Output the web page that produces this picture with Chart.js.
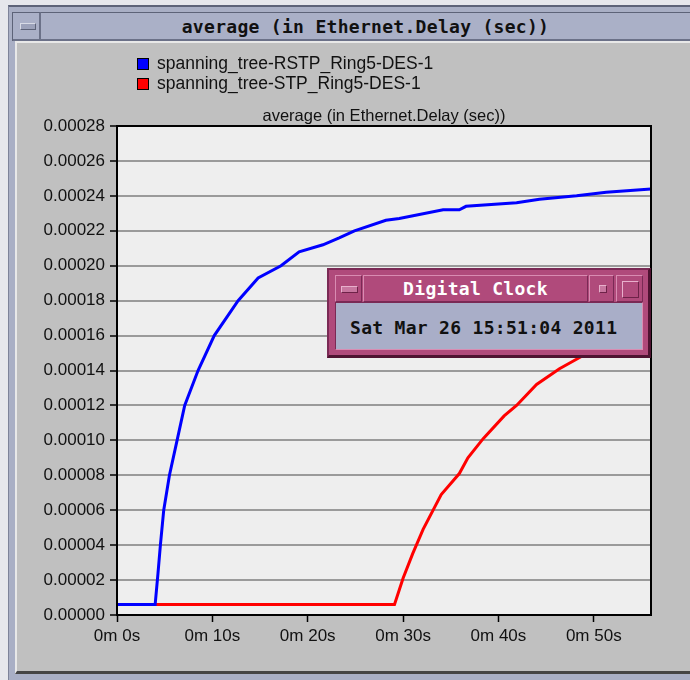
<!DOCTYPE html>
<html>
<head>
<meta charset="utf-8">
<script src="https://cdn.jsdelivr.net/npm/chart.js@4.4.1/dist/chart.umd.min.js"></script>
<style>
  html, body { margin: 0; padding: 0; }
  body {
    width: 690px; height: 680px; position: relative; overflow: hidden;
    background: #e6e7ec;
    font-family: "Liberation Sans", Arial, sans-serif;
  }
  .abs { position: absolute; box-sizing: border-box; }
  .mono { font: bold 18px "DejaVu Sans Mono", "Liberation Mono", monospace; letter-spacing: 0.3px; }
  #frame { left: 8px; top: 5px; width: 700px; height: 690px; background: #a9afc5;
           border-left: 1px solid #7d8399; border-top: 2px solid #5d6378; }
  #titlebar { left: 12px; top: 12px; width: 690px; height: 29px; background: #aab0c7;
              border-top: 1px solid #5d6378; border-left: 1px solid #5d6378; border-bottom: 2px solid #6b7188; }
  #wbtn { left: 12px; top: 12px; width: 29px; height: 29px; border-right: 2px solid #6b7188;
          border-left: 1px solid #5d6378; border-top: 1px solid #5d6378; }
  #wbtn i { position: absolute; left: 7px; top: 10px; width: 14px; height: 5px; background: #9ca2ba;
            border: 1px solid #5d6378; border-top-color: #d8dbe6; border-left-color: #d8dbe6; }
  #wtitle { left: 41px; top: 13px; width: 649px; height: 27px; line-height: 27px; text-align: center; color: #111; }
  #panel { left: 15px; top: 41px; width: 680px; height: 633px; background: #c0c0c0;
           border-top: 2px solid #e8e8e8; border-left: 2px solid #e8e8e8; border-bottom: 3px solid #454545; }
  #chart { position: absolute; left: 17px; top: 43px; }
  /* clock window */
  #clk { left: 327px; top: 268px; width: 324px; height: 90px; background: #b04a7b;
         border: 2px solid #7a2a55; border-right: 3px solid #4e1331; border-bottom: 3px solid #4e1331; }
  .cb { position: absolute; box-sizing: border-box; top: 275px; height: 27px; background: #b04a7b;
        border: 1px solid #7a2a55; border-top-color: #d98cb2; border-left-color: #d98cb2; }
  #cmin { left: 335px; width: 27px; }
  #cmin i { position: absolute; left: 5px; top: 10px; width: 15px; height: 5px; background: #c8769f;
            border: 1px solid #6e2248; border-top-color: #e8b0cc; border-left-color: #e8b0cc; }
  #ctitle { left: 363px; width: 225px; color: #fff; text-align: center; line-height: 26px; }
  #cico { left: 589px; width: 25px; }
  #cico i { position: absolute; left: 9px; top: 9px; width: 6px; height: 6px; background: #c8769f;
            border: 1px solid #6e2248; border-top-color: #e8b0cc; border-left-color: #e8b0cc; }
  #cmax { left: 616px; width: 27px; }
  #cmax i { position: absolute; left: 5px; top: 5px; width: 15px; height: 15px;
            border: 1px solid #6e2248; border-top-color: #e8b0cc; border-left-color: #e8b0cc; }
  #cbody { left: 335px; top: 302px; width: 308px; height: 48px; background: #a9aec8;
           border: 1px solid #7a2a55; border-bottom-color: #d98cb2; border-right-color: #d98cb2;
           color: #111; line-height: 50px; padding-left: 14px; }
</style>
</head>
<body>
<div id="frame" class="abs"></div>
<div id="titlebar" class="abs"></div>
<div id="wbtn" class="abs"><i></i></div>
<div id="wtitle" class="abs mono">average (in Ethernet.Delay (sec))</div>
<div id="panel" class="abs"></div>
<canvas id="chart" width="673" height="626"></canvas>

<div id="clk" class="abs"></div>
<div id="cmin" class="cb"><i></i></div>
<div id="ctitle" class="cb mono">Digital Clock</div>
<div id="cico" class="cb"><i></i></div>
<div id="cmax" class="cb"><i></i></div>
<div id="cbody" class="abs mono">Sat Mar 26 15:51:04 2011</div>

<script>
// Series: simulation time (s) and average Ethernet delay (s)
const rstpTime  = [0, 4.0, 4.3, 4.55, 4.9, 5.5, 6.3, 7.1, 8.5, 10.2, 12.7, 14.8, 17.2,
                   19.1, 21.6, 23.3, 24.9, 28.2, 29.6, 34.2, 35.9, 36.6, 41.9, 44.3, 48.2, 51.3, 56.0];
const rstpDelay = [0.000006, 0.000006, 0.000024, 0.000040, 0.000060, 0.000080, 0.000100, 0.000120,
                   0.000140, 0.000160, 0.000180, 0.000193, 0.000200,
                   0.000208, 0.000212, 0.000216, 0.000220, 0.000226, 0.000227, 0.000232, 0.000232,
                   0.000234, 0.000236, 0.000238, 0.000240, 0.000242, 0.000244];

const stpTime  = [0, 29.1, 30.0, 31.0, 32.1, 34.0, 35.9, 36.8, 38.4, 40.6, 41.9, 44.0, 46.4, 48.7,
                  50.5, 53.0, 56.0];
const stpDelay = [0.000006, 0.000006, 0.000021, 0.000035, 0.000049, 0.000069, 0.000081, 0.000090,
                  0.000101, 0.000114, 0.000120, 0.000132, 0.000141, 0.000148, 0.000153, 0.000159, 0.000165];

const seriesNames  = ['spanning_tree-RSTP_Ring5-DES-1', 'spanning_tree-STP_Ring5-DES-1'];
const seriesColors = ['#0000ff', '#ff0000'];

const xTickValues = [0, 10, 20, 30, 40, 50];
const xTickLabels = ['0m 0s', '0m 10s', '0m 20s', '0m 30s', '0m 40s', '0m 50s'];
const yTickValues = [0, 0.00002, 0.00004, 0.00006, 0.00008, 0.00010, 0.00012, 0.00014,
                     0.00016, 0.00018, 0.00020, 0.00022, 0.00024, 0.00026, 0.00028];
const yTickLabels = yTickValues.map(v => v.toFixed(5));

const plotTitle = 'average (in Ethernet.Delay (sec))';
const FONT = '"Liberation Sans", Arial, Helvetica, sans-serif';

function points(xs, ys) { return xs.map((x, i) => ({ x: x, y: ys[i] })); }

// plot background, frame, inner title and the stacked legend
const decor = {
  id: 'decor',
  beforeDraw(chart) {
    const { ctx, chartArea: a } = chart;
    ctx.save();
    ctx.fillStyle = '#eeeeee';
    ctx.fillRect(a.left, a.top, a.right - a.left, a.bottom - a.top);
    ctx.restore();
  },
  afterDraw(chart) {
    const { ctx, chartArea: a } = chart;
    ctx.save();
    ctx.strokeStyle = '#000';
    ctx.lineWidth = 2;
    ctx.strokeRect(a.left, a.top, a.right - a.left, a.bottom - a.top);

    ctx.fillStyle = '#111';
    ctx.font = '16.5px ' + FONT;
    ctx.textAlign = 'center';
    ctx.textBaseline = 'middle';
    ctx.fillText(plotTitle, (a.left + a.right) / 2, 73);

    ctx.font = '17.5px ' + FONT;
    ctx.textAlign = 'left';
    chart.data.datasets.forEach((ds, i) => {
      const y = 15 + 20 * i;
      ctx.fillStyle = ds.borderColor;
      ctx.fillRect(120, y, 12, 12);
      ctx.lineWidth = 1;
      ctx.strokeStyle = '#000';
      ctx.strokeRect(120.5, y + 0.5, 11, 11);
      ctx.fillStyle = '#111';
      ctx.fillText(ds.label, 140, y + 6.5);
    });
    ctx.restore();
  }
};

new Chart(document.getElementById('chart'), {
  type: 'line',
  data: {
    datasets: [
      { label: seriesNames[0], data: points(rstpTime, rstpDelay), borderColor: seriesColors[0],
        backgroundColor: seriesColors[0], borderWidth: 3, pointRadius: 0, tension: 0 },
      { label: seriesNames[1], data: points(stpTime, stpDelay), borderColor: seriesColors[1],
        backgroundColor: seriesColors[1], borderWidth: 3, pointRadius: 0, tension: 0 }
    ]
  },
  options: {
    responsive: false,
    animation: false,
    events: [],
    layout: { padding: { top: 83, right: 39, left: 0, bottom: 0 } },
    plugins: { legend: { display: false }, title: { display: false }, tooltip: { enabled: false } },
    scales: {
      x: {
        type: 'linear', min: 0, max: 56,
        afterFit(s) { s.height = 54; },
        afterBuildTicks(s) { s.ticks = xTickValues.map(v => ({ value: v })); },
        ticks: {
          callback: (v) => xTickLabels[xTickValues.indexOf(v)],
          color: '#111', font: { family: FONT, size: 17 }, padding: 4, maxRotation: 0, autoSkip: false
        },
        grid: { drawOnChartArea: false, drawTicks: true, tickLength: 7, tickColor: '#000', tickWidth: 1.5 },
        border: { display: true, color: '#000', width: 2 }
      },
      y: {
        type: 'linear', min: 0, max: 0.00028,
        afterFit(s) { s.width = 100; },
        afterBuildTicks(s) { s.ticks = yTickValues.map(v => ({ value: v })); },
        ticks: {
          callback: (v) => yTickLabels[yTickValues.indexOf(v)],
          color: '#111', font: { family: FONT, size: 17 }, padding: 5, autoSkip: false
        },
        grid: { color: '#9a9a9a', lineWidth: 2, drawTicks: true, tickLength: 7, tickColor: '#000', tickWidth: 1.5 },
        border: { display: true, color: '#000', width: 2 }
      }
    }
  },
  plugins: [decor]
});
</script>
</body>
</html>
